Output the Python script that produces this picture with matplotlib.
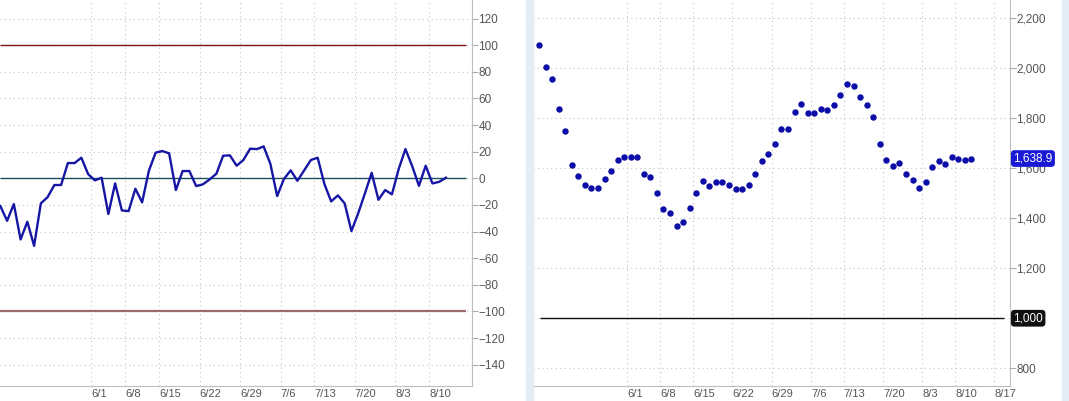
import matplotlib.pyplot as plt
import matplotlib.patches as patches
import numpy as np

plt.rcParams['font.family'] = ['Liberation Sans', 'DejaVu Sans']

# oscillator (left panel), one value per session
osc = [-20.8, -31.9, -19.3, -45.9, -32.6, -50.7, -18.8, -14.1, -5, -5,
       11.5, 11.5, 15.5, 3.2, -1.5, 0.5, -26.8, -3.8, -24.1, -24.6,
       -7.8, -18, 5.7, 19.3, 20.5, 18.8, -8.8, 5.5, 5.5, -5.8,
       -4.5, -0.8, 3.5, 17, 17.3, 9.5, 13.8, 22.3, 22, 24,
       10.8, -13.3, -0.5, 6, -1.8, 6, 13.8, 15.5, -4.3, -17.3,
       -12.8, -18.8, -39.6, -26.3, -11.3, 4.2, -16.1, -8.8, -12, 7,
       22, 9.2, -5.6, 9.5, -3.8, -2.6, 0.5]

# index (right panel)
idx = [2092, 2005, 1957, 1836, 1749, 1614, 1570, 1534, 1522, 1522,
       1557, 1589, 1634, 1644, 1644, 1646, 1576, 1566, 1502, 1438,
       1420, 1370, 1386, 1442, 1500, 1550, 1529, 1544, 1544, 1532,
       1518, 1518, 1532, 1576, 1628, 1656, 1698, 1758, 1758, 1826,
       1856, 1822, 1822, 1838, 1834, 1854, 1894, 1938, 1929, 1884,
       1852, 1804, 1698, 1634, 1608, 1621, 1576, 1554, 1522, 1544,
       1605, 1630, 1617, 1646, 1637, 1634, 1638.9]

date_labels = ['6/1', '6/8', '6/15', '6/22', '6/29', '7/6', '7/13', '7/20', '8/3', '8/10', '8/17']
date_pos = [13.5, 18.5, 23.5, 29.5, 35.5, 41.5, 46.5, 52.5, 58.5, 63.5, 69.5]

osc_levels = [100, 0, -100]
idx_level = 1000

W, H = 1069, 401
fig = plt.figure(figsize=(W / 100, H / 100), dpi=100)
fig.patch.set_facecolor('white')

# pale strips around the right panel
fig.patches.append(patches.Rectangle((526 / W, 0), 7 / W, 1, transform=fig.transFigure,
                                     color='#e4edf5', zorder=0))
fig.patches.append(patches.Rectangle((1062 / W, 0), 7 / W, 1, transform=fig.transFigure,
                                     color='#e4edf5', zorder=0))

bot = 15 / H
hgt = 386 / H
ax1 = fig.add_axes([0, bot, 471.6 / W, hgt])
ax2 = fig.add_axes([533.4 / W, bot, (1009.5 - 533.4) / W, hgt])

grid_kw = dict(color='#c4c4c4', linestyle=(0, (1, 3)), linewidth=0.8)
spine_c = '#bdbdbd'

for ax in (ax1, ax2):
    ax.set_facecolor('white')
    ax.yaxis.tick_right()
    ax.tick_params(axis='y', which='major', direction='out', length=4, color='#aaaaaa',
                   labelsize=8.5, labelcolor='#555555', pad=1)
    ax.tick_params(axis='x', which='major', length=0, labelsize=8, labelcolor='#555555', pad=2)
    ax.grid(True, **grid_kw)
    ax.set_axisbelow(True)
    ax.spines['top'].set_visible(False)
    for s in ('left', 'right', 'bottom'):
        ax.spines[s].set_color(spine_c)

ax1.spines['left'].set_visible(False)

# left panel
x1 = np.arange(len(osc))
ax1.hlines(osc_levels[0], 0, 68.9, color='#7a1414', linewidth=1.0, zorder=2)
ax1.hlines(osc_levels[1], 0, 68.9, color='#1d4e5e', linewidth=1.0, zorder=2)
ax1.hlines(osc_levels[2], 0, 68.9, color='#9a6c6c', linewidth=1.6, zorder=2)
ax1.plot(x1, osc, color='#1616a4', linewidth=1.7, zorder=3)
ax1.set_xlim(-0.05, 69.8)
ax1.set_ylim(-156, 134)
ax1.set_yticks(np.arange(-140, 121, 20))
ax1.set_xticks(date_pos[:-1])
ax1.set_xticklabels(date_labels[:-1], ha='left')

# right panel
x2 = np.arange(len(idx))
ax2.hlines(idx_level, 0.1, 70.9, color='#111111', linewidth=1.0, zorder=2)
ax2.plot(x2, idx, linestyle='none', marker='o', markersize=3.6, color='#0c0ca8', zorder=3)
ax2.set_xlim(-0.85, 71.8)
ax2.set_ylim(729, 2273)
yt2 = list(range(800, 2201, 200))
ax2.set_yticks(yt2)
ax2.set_yticklabels(['' if v == idx_level else f'{v:,}' for v in yt2])
ax2.set_xticks(date_pos)
ax2.set_xticklabels(date_labels, ha='left')

tr = ax2.get_yaxis_transform()
ax2.text(1.008, idx[-1], f'{idx[-1]:,.1f}', transform=tr, ha='left', va='center',
         fontsize=8.5, color='white',
         bbox=dict(boxstyle='round,pad=0.2,rounding_size=0.3', fc='#1a1ad6', ec='none'))
ax2.text(1.008, idx_level, f'{idx_level:,}', transform=tr, ha='left', va='center',
         fontsize=8.5, color='white',
         bbox=dict(boxstyle='round,pad=0.2,rounding_size=0.3', fc='#111111', ec='none'))

plt.savefig('out.png', dpi=100)
